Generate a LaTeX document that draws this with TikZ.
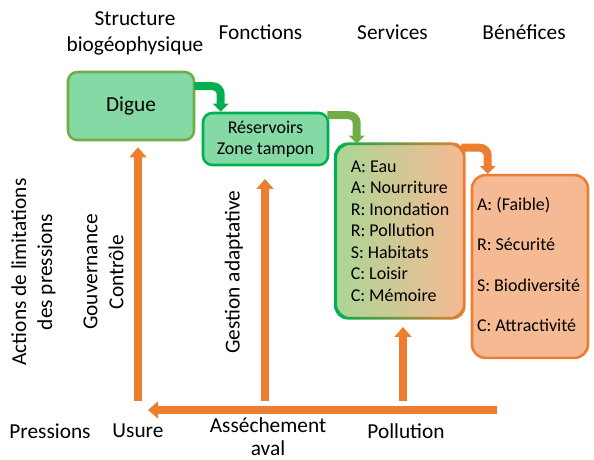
\documentclass[tikz,border=0pt]{standalone}
\usepackage{fontspec}
\setmainfont{Carlito}
\usepackage{tikz}
\usetikzlibrary{arrows.meta,calc}

\definecolor{orangeD}{RGB}{237,125,49}
\definecolor{greenD}{RGB}{0,176,80}
\definecolor{oliveD}{RGB}{112,173,71}
\definecolor{greenF}{RGB}{132,217,164}
\definecolor{orangeF}{RGB}{245,186,148}
\definecolor{greenS}{RGB}{172,214,150}

\begin{document}
\frenchspacing
\begin{tikzpicture}[x=0.75pt, y=-0.75pt,
        big/.style={font=\fontsize{16}{19.5}\selectfont, align=center, inner sep=0pt},
        small/.style={font=\fontsize{13.5}{16.1}\selectfont},
        box/.style={rounded corners=7pt, line width=1.9pt, small, align=center},
        garrow/.style={line width=6pt, rounded corners=6pt, -{Triangle[width=11.5pt,length=6pt]}},
        oarrow/.style={draw=orangeD, line width=6.5pt, -{Triangle[width=12.5pt,length=7.5pt]}}]
    \useasboundingbox (0,0) rectangle (594,460);

    % column titles
    \node[big] (tstruct) at (135,33.5) {Structure\\biogéophysique};
    \node[big] (tfonct) at (260.5,32) {Fonctions};
    \node[big] (tserv) at (392.5,32) {Services};
    \node[big] (tbenef) at (524,32) {Bénéfices};

    % boxes
    \node[box, draw=oliveD, fill=greenF, minimum width=94.5pt, minimum height=51pt,
          font=\fontsize{16}{19.5}\selectfont] (dig) at (131,106) {Digue};
    \node[box, draw=greenD, fill=greenF, minimum width=93.75pt, minimum height=39pt] (res) at (265.5,139)
        {Réservoirs\\Zone tampon};
    \node[box, rounded corners=10pt, left color=greenS, right color=orangeF, minimum width=94.5pt,
          minimum height=129pt, align=left] (sv) at (400,231)
        {A:\ Eau\\A:\ Nourriture\\R:\ Inondation\\R:\ Pollution\\S:\ Habitats\\C:\ Loisir\\C:\ Mémoire};
    \shade[left color=greenD, right color=orangeD, even odd rule, rounded corners=10pt]
        ($(sv.south west)+(-1.3,1.3)$) rectangle ($(sv.north east)+(1.3,-1.3)$)
        ($(sv.south west)+(1.3,-1.3)$) rectangle ($(sv.north east)+(-1.3,1.3)$);
    \node[box, rounded corners=10pt, draw=orangeD, fill=orangeF, minimum width=87pt,
          minimum height=137pt] (bn) at (530,266.5) {};
    \node[small, align=left, anchor=west, inner sep=0pt] (bntxt) at ($(bn.west)+(6,-2)$)
        {A:\ (Faible)\\[14.2pt]R:\ Sécurité\\[14.2pt]S:\ Biodiversité\\[14.2pt]C:\ Attractivité};

    % links between boxes
    \draw[garrow, draw=greenD] ($(dig.north east)+(-1,15.5)$) -| ($(res.north west)+(19,0)$);
    \draw[garrow, draw=oliveD] ($(res.north east)+(-2,3.5)$) -| ($(sv.north west)+(21,0)$);
    \draw[garrow, draw=orangeD] ($(sv.north east)+(-3,4)$) -| ($(bn.north west)+(17,0)$);

    % pressions
    \coordinate (pr0) at (497,410);
    \coordinate (u0) at (138,401);
    \coordinate (a0) at (265,401);
    \coordinate (p0) at (403,401);
    \draw[oarrow] (pr0) -- (148,410);
    \draw[oarrow, shorten >=4.5pt] (u0) -- (u0 |- dig.south);
    \draw[oarrow, shorten >=9.5pt] (a0) -- (a0 |- res.south);
    \draw[oarrow, shorten >=6.5pt] (p0) -- (p0 |- sv.south);

    \node[big] (tpress) at (50,431) {Pressions};
    \node[big] (tusure) at (138,431) {Usure};
    \node[big, font=\fontsize{16}{17}\selectfont] (tassech) at (268,437) {Asséchement\\aval};
    \node[big] (tpoll) at (406,431) {Pollution};

    % actions
    \node[big, rotate=90] (tact) at (33.5,272) {Actions de limitations\\des pressions};
    \node[big, rotate=90] (tgouv) at (103.5,272) {Gouvernance\\Contrôle};
    \node[big, rotate=90] (tgest) at (234,272) {Gestion adaptative};
\end{tikzpicture}
\end{document}
